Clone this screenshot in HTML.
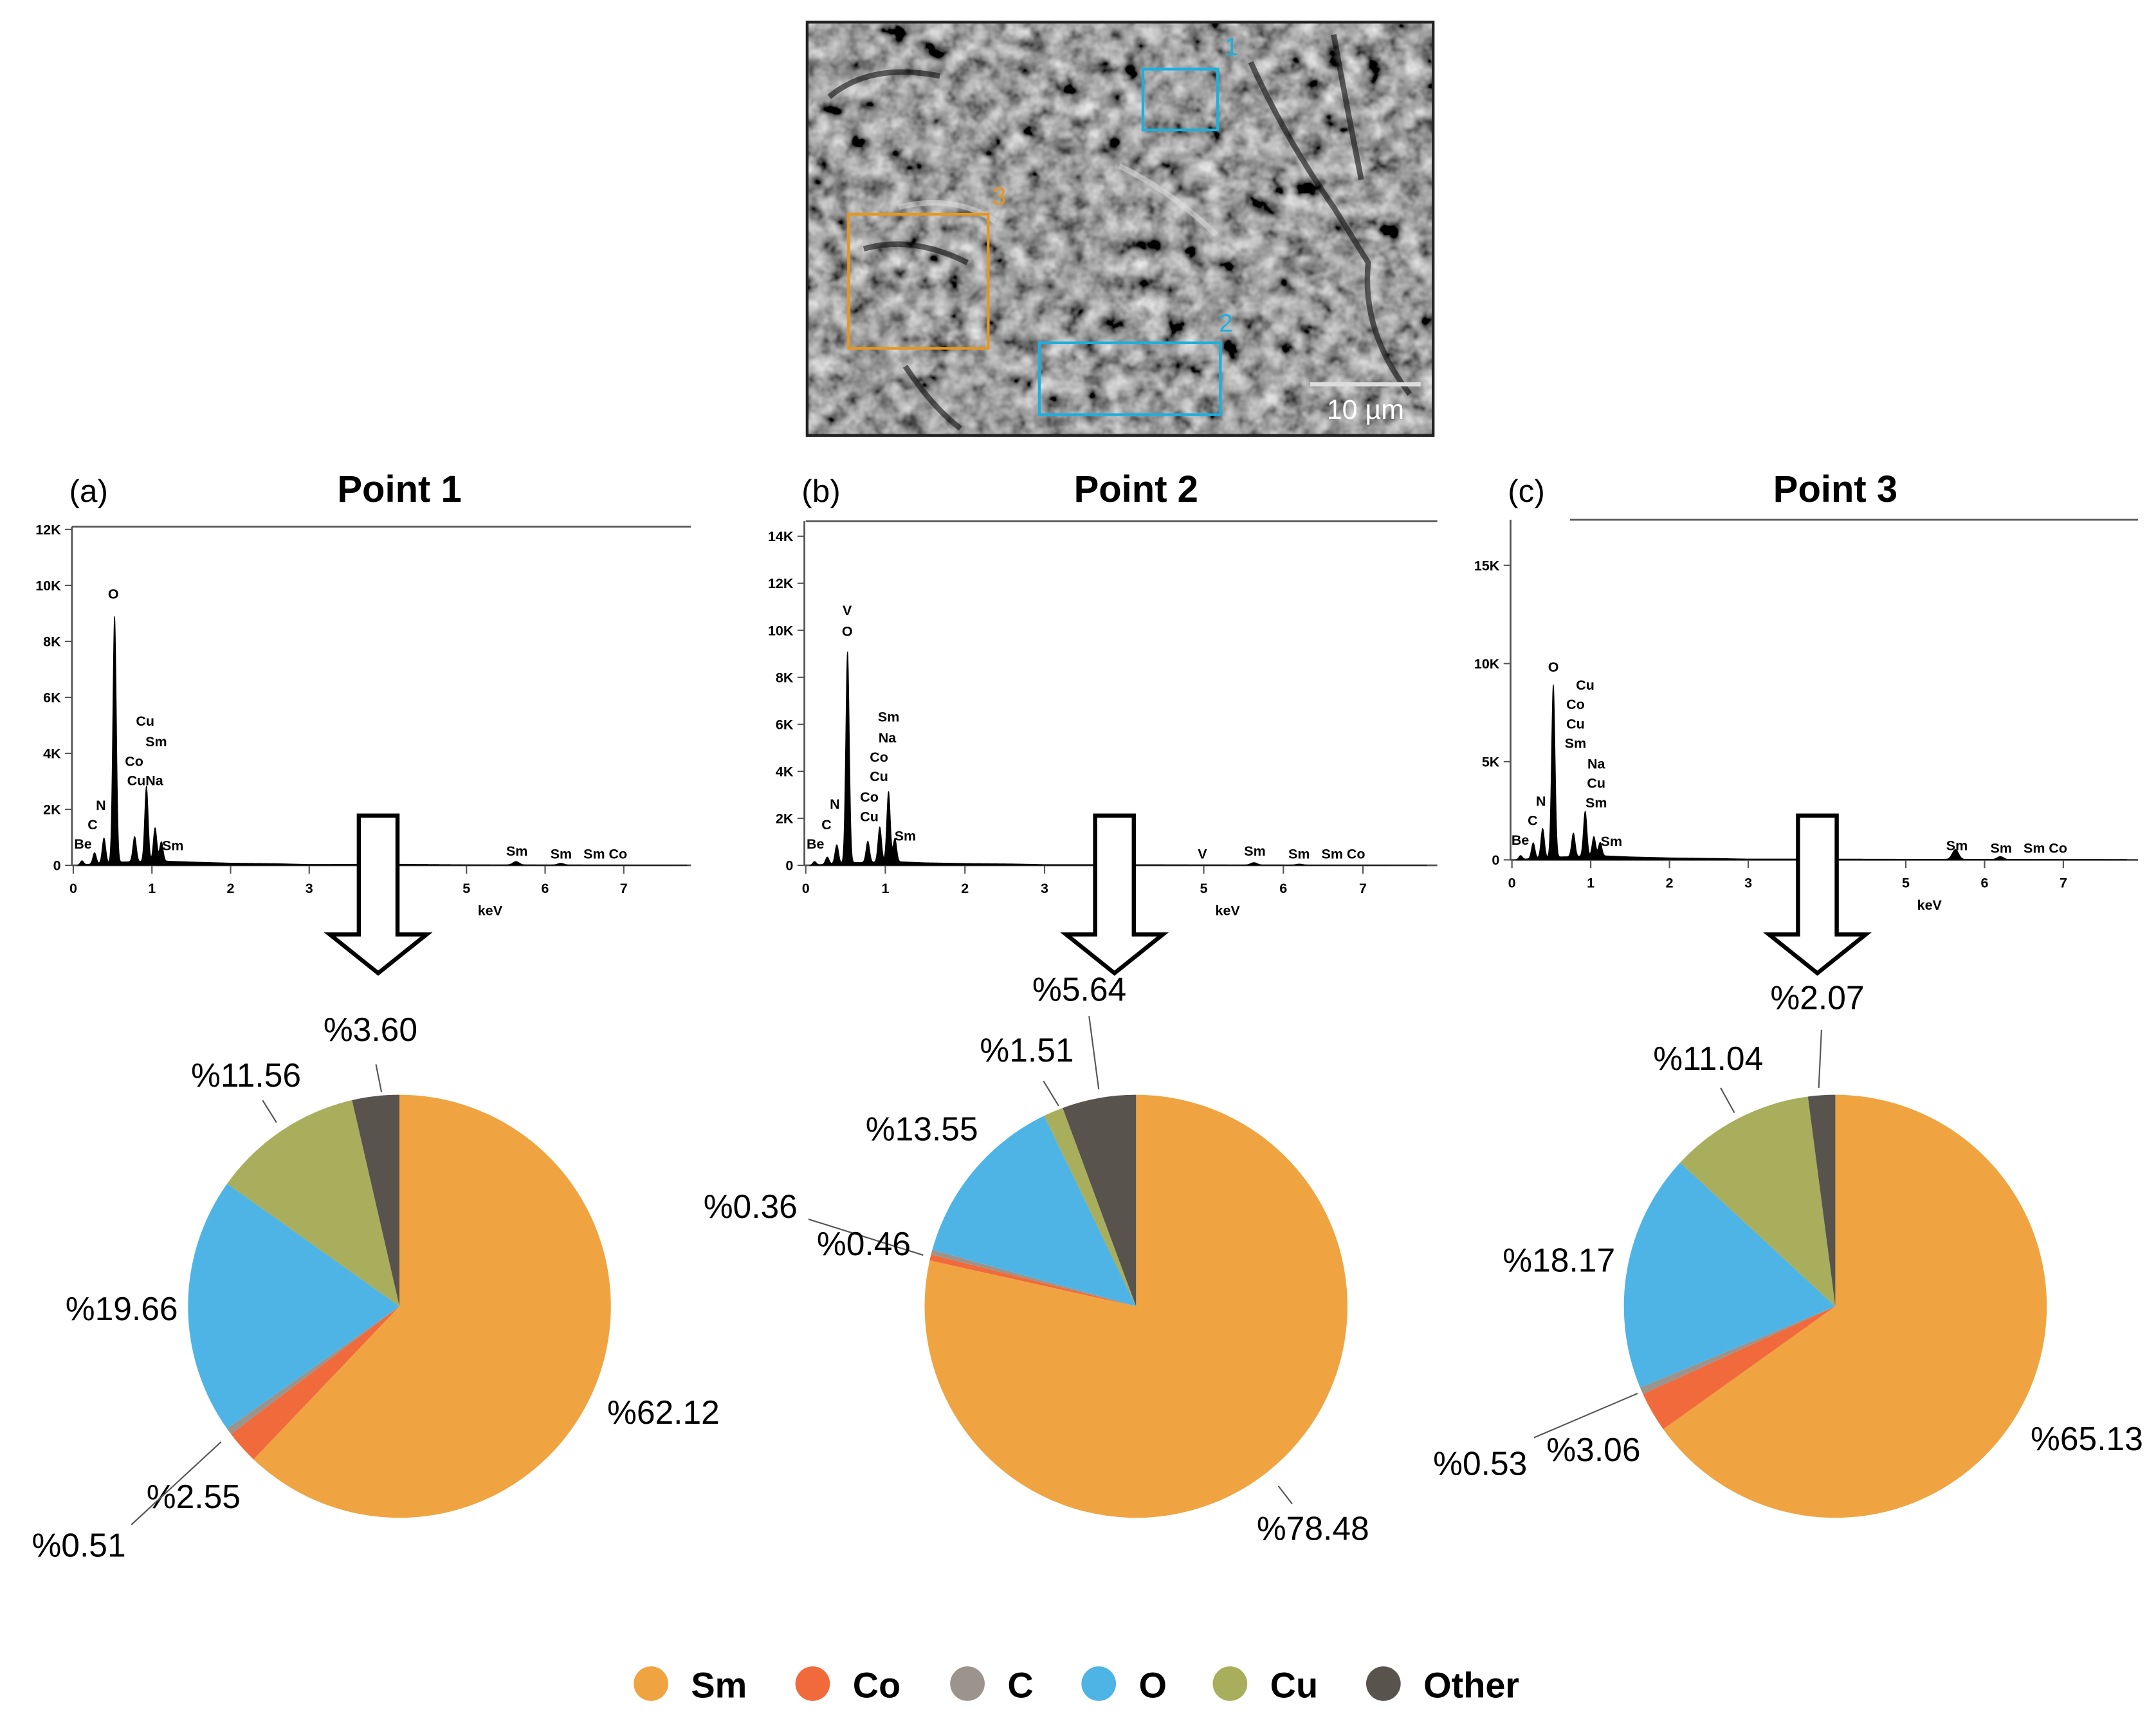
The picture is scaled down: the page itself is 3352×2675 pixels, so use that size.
<!DOCTYPE html>
<html><head><meta charset="utf-8"><style>
html,body{margin:0;padding:0;background:#fff}
svg{display:block}
text{font-family:"Liberation Sans",sans-serif}
</style></head><body>
<svg id="fig" width="3352" height="2675" viewBox="0 0 1560 1245" xmlns="http://www.w3.org/2000/svg">
<defs>
<filter id="sem" x="0" y="0" width="100%" height="100%">
<feTurbulence type="fractalNoise" baseFrequency="0.07" numOctaves="3" seed="4"/>
<feColorMatrix type="matrix" values="0.33 0.33 0.33 0 0 0.33 0.33 0.33 0 0 0.33 0.33 0.33 0 0 0 0 0 0 1"/>
<feComponentTransfer><feFuncR type="linear" slope="1.9" intercept="-0.6"/><feFuncG type="linear" slope="1.9" intercept="-0.6"/><feFuncB type="linear" slope="1.9" intercept="-0.6"/></feComponentTransfer>
</filter>
</defs>
<g>
<rect x="584" y="16" width="453" height="299" fill="#555"/>
<rect x="584" y="16" width="453" height="299" filter="url(#sem)"/>
<path d="M600 70 Q630 45 680 55 M625 180 Q660 170 700 190 M905 45 Q930 100 965 150 L990 190 Q985 240 1020 285 M965 25 Q975 80 985 130 M655 265 Q675 295 695 310" stroke="#111" stroke-width="4" fill="none" opacity="0.6"/>
<path d="M650 150 Q690 140 720 160 M810 120 Q850 140 880 170" stroke="#ddd" stroke-width="4" fill="none" opacity="0.5"/>
<rect x="584" y="16" width="453" height="299" fill="none" stroke="#222" stroke-width="2"/>
<rect x="827" y="50" width="54" height="44" fill="none" stroke="#1ab0e0" stroke-width="2"/>
<text x="886" y="40" fill="#1ab0e0" font-size="18">1</text>
<rect x="752" y="248" width="131" height="52" fill="none" stroke="#1ab0e0" stroke-width="2"/>
<text x="882" y="240" fill="#1ab0e0" font-size="18">2</text>
<rect x="614" y="155" width="101" height="97" fill="none" stroke="#e8961e" stroke-width="2"/>
<text x="718" y="148" fill="#e8961e" font-size="18">3</text>
<line x1="948" y1="278" x2="1028" y2="278" stroke="#ddd" stroke-width="3"/>
<text x="988" y="303" fill="#fff" font-size="20" text-anchor="middle">10 µm</text>
</g>
<g id="charts"></g>
<g id="legend"></g>
</svg>
<script>
const NS='http://www.w3.org/2000/svg';
const root=document.getElementById('charts');
function mk(tag,attrs,parent,txt){const e=document.createElementNS(NS,tag);for(const k in attrs)e.setAttribute(k,attrs[k]);if(txt!==undefined)e.textContent=txt;(parent||root).appendChild(e);return e;}

// ---- data ----
const elements=['Sm','Co','C','O','Cu','Other'];
const colors=['#EFA441','#F06A3C','#9C948C','#4EB4E6','#A9AE5C','#58534D'];
const pie1=[62.12,2.55,0.51,19.66,11.56,3.60];
const pie2=[78.48,0.46,0.36,13.55,1.51,5.64];
const pie3=[65.13,3.06,0.53,18.17,11.04,2.07];
const peakEnergies=[0.11,0.27,0.39,0.525,0.78,0.93,1.04,1.12,5.63,6.2];
const peaks1=[150,400,900,8800,900,2700,1200,700,120,60];
const peaks2=[150,300,800,9000,900,1500,3000,1000,100,40];
const peaks3=[200,800,1500,8800,1200,2300,1000,700,500,150];
const bgEnergies=[0.05,0.3,0.6,1.2,1.5,2,2.6,3,4,5,6,7,7.8];
const bg1=[0,60,120,150,120,80,60,30,40,20,15,10,5];
const bg2=[0,60,120,150,110,80,60,30,30,20,15,10,5];
const bg3=[0,80,150,200,150,100,70,40,40,30,20,10,5];
const yTicks1=[0,2000,4000,6000,8000,10000,12000], yLab1=['0','2K','4K','6K','8K','10K','12K'];
const yTicks2=[0,2000,4000,6000,8000,10000,12000,14000], yLab2=['0','2K','4K','6K','8K','10K','12K','14K'];
const yTicks3=[0,5000,10000,15000], yLab3=['0','5K','10K','15K'];
const xTicks=[0,1,2,3,4,5,6,7];

const panels=[
 {id:'a',tag:'(a)',title:'Point 1',pie:pie1,peaks:peaks1,bg:bg1,yt:yTicks1,yl:yLab1,
  x0:53,xs:56.9,y0:626,ys:243/12000,top:381,topX0:52,topX1:500,cx:289,
  lbls:[['O',82,433],['Cu',105,525],['Sm',113,540],['Co',97,554],['CuNa',105,568],['N',73,586],['C',67,600],['Be',60,614],['Sm',125,615],['Sm',374,619],['Sm',406,621],['Sm Co',438,621]],
  pl:[['%3.60',268,753,272,770,276,790],['%11.56',178,786,190,796,200,812],['%19.66',88,955],['%62.12',480,1030],['%2.55',140,1091],['%0.51',57,1126,95,1103,160,1043]]},
 {id:'b',tag:'(b)',title:'Point 2',pie:pie2,peaks:peaks2,bg:bg2,yt:yTicks2,yl:yLab2,
  x0:583,xs:57.6,y0:626,ys:238/14000,top:377,topX0:583,topX1:1040,cx:822,
  lbls:[['V',613,445],['O',613,460],['Sm',643,522],['Na',642,537],['Co',636,551],['Cu',636,565],['Co',629,580],['Cu',629,594],['N',604,585],['C',598,600],['Be',590,614],['Sm',655,608],['V',870,621],['Sm',908,619],['Sm',940,621],['Sm Co',972,621]],
  pl:[['%5.64',781,724,788,735,795,788],['%1.51',743,768,755,782,766,800],['%13.55',667,825],['%0.36',543,881,585,882,668,908],['%0.46',625,908],['%78.48',950,1114,925,1075,935,1088]]},
 {id:'c',tag:'(c)',title:'Point 3',pie:pie3,peaks:peaks3,bg:bg3,yt:yTicks3,yl:yLab3,
  x0:1094,xs:57,y0:622,ys:71/5000,top:376,topX0:1136,topX1:1547,cx:1328,
  lbls:[['O',1124,486],['Cu',1147,499],['Co',1140,513],['Cu',1140,527],['Sm',1140,541],['Na',1155,556],['Cu',1155,570],['Sm',1155,584],['N',1115,583],['C',1109,597],['Be',1100,611],['Sm',1166,612],['Sm',1416,615],['Sm',1448,617],['Sm Co',1480,617]],
  pl:[['%2.07',1315,730,1318,745,1316,787],['%11.04',1236,774,1245,787,1255,805],['%18.17',1128,920],['%0.53',1071,1067,1110,1040,1185,1008],['%3.06',1153,1057],['%65.13',1510,1049]]}
];

function interp(xs,ys,x){if(x<=xs[0])return ys[0];for(let i=1;i<xs.length;i++){if(x<=xs[i]){const t=(x-xs[i-1])/(xs[i]-xs[i-1]);return ys[i-1]+t*(ys[i]-ys[i-1]);}}return ys[ys.length-1];}

panels.forEach(p=>{
  const g=mk('g',{});
  
  
  const X=e=>p.x0+e*p.xs, Y=v=>p.y0-v*p.ys;
  const t1=mk('text',{x:p.x0-3,y:363,'font-size':23},g,p.tag);
  
  
  const t2=mk('text',{x:p.cx,y:363,'font-size':27,'font-weight':'bold','text-anchor':'middle'},g,p.title);
  
  
  const sg=mk('g',{},g);
  
  
  mk('line',{x1:p.topX0,y1:p.top,x2:p.topX1,y2:p.top,stroke:'#555','stroke-width':1.3},sg);
  mk('line',{x1:p.x0-1,y1:p.top,x2:p.x0-1,y2:p.y0,stroke:'#555','stroke-width':1.3},sg);
  mk('line',{x1:p.x0-1,y1:p.y0,x2:p.topX1,y2:p.y0,stroke:'#555','stroke-width':1.3},sg);
  p.yt.forEach((v,i)=>{
    mk('line',{x1:p.x0-6,y1:Y(v),x2:p.x0-1,y2:Y(v),stroke:'#555','stroke-width':1},sg);
    const t=mk('text',{x:p.x0-9,y:Y(v)+3.5,'font-size':10,'font-weight':'bold','text-anchor':'end'},sg,p.yl[i]);
    
    
  });
  xTicks.forEach(v=>{
    mk('line',{x1:X(v),y1:p.y0,x2:X(v),y2:p.y0+6,stroke:'#555','stroke-width':1},sg);
    const t=mk('text',{x:X(v),y:p.y0+20,'font-size':10,'font-weight':'bold','text-anchor':'middle'},sg,String(v));
    
    
  });
  const kt=mk('text',{x:X(5.3),y:p.y0+36,'font-size':10,'font-weight':'bold','text-anchor':'middle'},sg,'keV');
  
  
  let d='M'+X(0.05)+' '+p.y0;
  for(let e=0.05;e<=7.8;e+=0.004){
    let v=interp(bgEnergies,p.bg,e);
    peakEnergies.forEach((pe,i)=>{const s=pe<2?0.022:0.04;v+=p.peaks[i]*Math.exp(-0.5*((e-pe)/s)**2);});
    d+=' L'+X(e).toFixed(2)+' '+Y(v).toFixed(2);
  }
  d+=' L'+X(7.8)+' '+p.y0+' Z';
  const sp=mk('path',{d:d,fill:'#000',stroke:'#000','stroke-width':0.5},sg);
  
  
  p.lbls.forEach(l=>{
    const t=mk('text',{x:l[1],y:l[2],'font-size':10,'font-weight':'bold','text-anchor':'middle'},sg,l[0]);
    
    
  });
  const ax=X(4)-7;
  const ar=mk('path',{d:`M${ax-14} 590 H${ax+14} V676 H${ax+35} L${ax} 704 L${ax-35} 676 H${ax-14} Z`,fill:'#fff',stroke:'#000','stroke-width':3},g);
  
  
  const pg=mk('g',{},g);
  
  
  const cx=p.cx, cy=945, r=153;
  const tot=p.pie.reduce((a,b)=>a+b,0);
  let a0=0;
  p.pie.forEach((v,i)=>{
    const a1=a0+v/tot*2*Math.PI;
    const x0=cx+r*Math.sin(a0),y0=cy-r*Math.cos(a0),x1=cx+r*Math.sin(a1),y1=cy-r*Math.cos(a1);
    const large=(a1-a0)>Math.PI?1:0;
    const sl=mk('path',{d:`M${cx} ${cy} L${x0} ${y0} A${r} ${r} 0 ${large} 1 ${x1} ${y1} Z`,fill:colors[i]},pg);
    
    
    a0=a1;
  });
  p.pl.forEach(l=>{
    const t=mk('text',{x:l[1],y:l[2],'font-size':24,'text-anchor':'middle'},pg,l[0]);
    
    
    if(l.length>3) mk('line',{x1:l[3],y1:l[4],x2:l[5],y2:l[6],stroke:'#555','stroke-width':1},pg);
  });
});

const lg=document.getElementById('legend');
const lx=[471,588,700,795,890,1001];
elements.forEach((el,i)=>{
  const c=mk('circle',{cx:lx[i],cy:1218,r:12.5,fill:colors[i]},lg);
  
  
  const t=mk('text',{x:lx[i]+29,y:1228,'font-size':26,'font-weight':'bold'},lg,el);
  
  
});
</script>
</body></html>
